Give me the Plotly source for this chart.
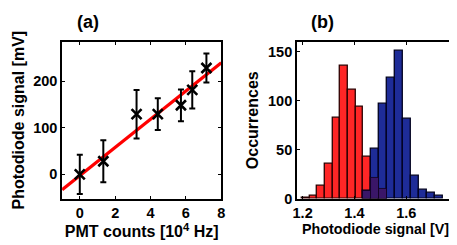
import plotly.graph_objects as go

# ---- Panel (a) data ----
pmt_counts = [0, 1.33, 3.21, 4.41, 5.72, 6.36, 7.16]
signal_mv = [0, 28, 129, 129, 148, 181, 228]
err_mv = [42, 45, 52, 34, 34, 40, 31]
fit_x = [-1, 8]
fit_y = [-33, 239]

# ---- Panel (b) data ----
red_centers = [1.2119, 1.2416, 1.2713, 1.3010, 1.3307, 1.3604, 1.3901, 1.4198, 1.4495, 1.4792, 1.5089]
red_counts = [1, 3, 13, 35, 82, 136, 111, 94, 43, 21, 10]
red_width = 0.0297
blue_centers = [1.4476, 1.4787, 1.5098, 1.5409, 1.5720, 1.6031, 1.6342, 1.6653, 1.6964, 1.7275]
blue_counts = [8, 51, 97, 123, 151, 81, 23, 9, 6, 3]
blue_width = 0.0311

# overlap (both histograms present in the same bin)
ov_x, ov_y = [], []
for rc, rv in zip(red_centers, red_counts):
    for bc, bv in zip(blue_centers, blue_counts):
        if abs(rc - bc) < red_width / 2:
            ov_x.append(rc)
            ov_y.append(min(rv, bv))

FONT = "Liberation Sans, Arial, sans-serif"

fig = go.Figure()

fig.add_trace(go.Scatter(x=fit_x, y=fit_y, mode="lines",
                         line=dict(color="#ff0000", width=3.2),
                         xaxis="x", yaxis="y", showlegend=False))
fig.add_trace(go.Scatter(x=pmt_counts, y=signal_mv, mode="markers",
                         marker=dict(symbol="x-thin", size=10, color="black",
                                     line=dict(color="black", width=2.6)),
                         error_y=dict(type="data", array=err_mv, color="black",
                                      thickness=2, width=3),
                         xaxis="x", yaxis="y", showlegend=False))

fig.add_trace(go.Bar(x=red_centers, y=red_counts, width=red_width,
                     marker=dict(color="#ff2626", line=dict(color="#2a0000", width=1.3)),
                     xaxis="x2", yaxis="y2", showlegend=False))
fig.add_trace(go.Bar(x=blue_centers, y=blue_counts, width=blue_width,
                     marker=dict(color="#1e2c98", line=dict(color="#00001e", width=1.3)),
                     xaxis="x2", yaxis="y2", showlegend=False))
fig.add_trace(go.Bar(x=ov_x, y=ov_y, width=red_width,
                     marker=dict(color="#3a1668", line=dict(color="#10001e", width=0.8)),
                     xaxis="x2", yaxis="y2", showlegend=False))

W, H = 457, 245
y_dom = [1 - 197 / H, 1 - 35 / H]

axis_common = dict(showline=True, linecolor="black", linewidth=1.6, mirror="ticks",
                   ticks="inside", ticklen=3, tickwidth=1.4, tickcolor="black",
                   showgrid=False, zeroline=False,
                   tickfont=dict(family=FONT, size=14.5, color="black", weight="bold"))
title_font = dict(family=FONT, size=16, color="black", weight="bold")
title_font_b = dict(family=FONT, size=14.3, color="black", weight="bold")

fig.update_layout(
    width=W, height=H,
    margin=dict(l=0, r=0, t=0, b=0),
    paper_bgcolor="white", plot_bgcolor="white",
    barmode="overlay", bargap=0,
    xaxis=dict(domain=[51 / W, 213 / W], range=[-1, 8], tickvals=[0, 2, 4, 6, 8],
               title=dict(text="PMT counts [10<sup>4</sup> Hz]", font=title_font, standoff=3),
               anchor="y", **axis_common),
    yaxis=dict(domain=y_dom, range=[-52, 284], tickvals=[0, 100, 200],
               title=dict(text="Photodiode signal [mV]", font=title_font, standoff=5),
               anchor="x", **axis_common),
    xaxis2=dict(domain=[290 / W, 450 / W], range=[1.178, 1.785], tickvals=[1.2, 1.4, 1.6],
                tickformat=".1f",
                title=dict(text="Photodiode signal [V]", font=title_font_b, standoff=4),
                anchor="y2", **axis_common),
    yaxis2=dict(domain=y_dom, range=[0, 160], tickvals=[0, 50, 100, 150],
                title=dict(text="Occurrences", font=title_font, standoff=5),
                anchor="x2", **axis_common),
    annotations=[
        dict(text="(a)", x=77.5 / W, y=1 - 14.5 / H, xref="paper", yref="paper",
             xanchor="center", yanchor="middle", showarrow=False,
             font=dict(family=FONT, size=18, color="black", weight="bold")),
        dict(text="(b)", x=316.5 / W, y=1 - 14.5 / H, xref="paper", yref="paper",
             xanchor="center", yanchor="middle", showarrow=False,
             font=dict(family=FONT, size=18, color="black", weight="bold")),
    ],
)

fig.write_html("out.html")
